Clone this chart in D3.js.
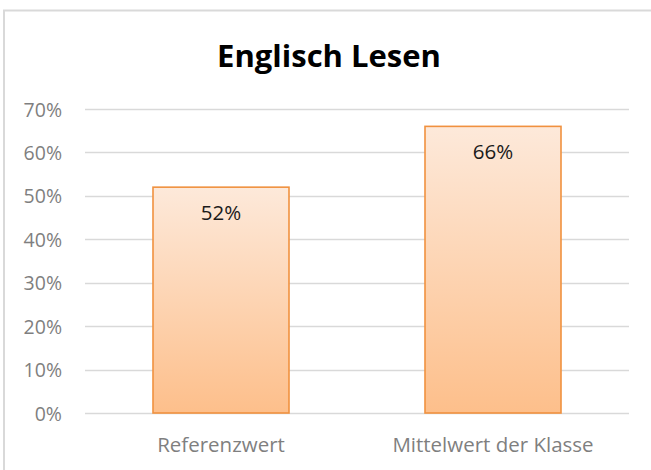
<!DOCTYPE html>
<html>
<head>
<meta charset="utf-8">
<script src="https://cdn.jsdelivr.net/npm/d3@7/dist/d3.min.js"></script>
<style>
  html, body { margin: 0; padding: 0; background: #ffffff; }
  svg { display: block; }
</style>
</head>
<body>
<svg id="chart" width="651" height="470"></svg>
<script>
const title = "Englisch Lesen";
const categories = ["Referenzwert", "Mittelwert der Klasse"];
const values = [0.52, 0.66];
const yTicks = [0, 0.1, 0.2, 0.3, 0.4, 0.5, 0.6, 0.7];

const W = 651, H = 470;
const svg = d3.select("#chart");
const FONT = "'Open Sans', Lato, sans-serif";

// chart border
svg.append("rect")
  .attr("x", 4).attr("y", 10.5)
  .attr("width", W + 20).attr("height", H + 20)
  .attr("fill", "#ffffff")
  .attr("stroke", "#d9d9d9").attr("stroke-width", 2);

const plot = { left: 85, right: 629, top: 109, bottom: 413 };

const y = d3.scaleLinear().domain([0, 0.7]).range([plot.bottom, plot.top]);
const x = d3.scaleBand().domain(categories)
  .range([plot.left, plot.right]).paddingInner(0.5).paddingOuter(0.25);

// gradient
const defs = svg.append("defs");
const grad = defs.append("linearGradient").attr("id", "barGrad")
  .attr("x1", 0).attr("y1", 0).attr("x2", 0).attr("y2", 1);
grad.append("stop").attr("offset", "0%").attr("stop-color", "#fde9da");
grad.append("stop").attr("offset", "100%").attr("stop-color", "#fdbf8b");

// gridlines
svg.append("g").selectAll("line").data(yTicks).join("line")
  .attr("x1", plot.left).attr("x2", plot.right)
  .attr("y1", d => Math.round(y(d)) + 0.5).attr("y2", d => Math.round(y(d)) + 0.5)
  .attr("stroke", "#d9d9d9").attr("stroke-width", 1.3);

// y axis
const yAxis = d3.axisLeft(y).tickValues(yTicks).tickFormat(d3.format(".0%")).tickSize(0).tickPadding(0);
const gy = svg.append("g").attr("transform", `translate(62,0)`).call(yAxis);
gy.select(".domain").remove();
gy.selectAll("text").attr("fill", "#7f7f7f").attr("font-family", FONT).attr("font-size", 19.5).attr("dy", "0.36em");

// x axis
const xAxis = d3.axisBottom(x).tickSize(0).tickPadding(0);
const gx = svg.append("g").attr("transform", `translate(0,${plot.bottom})`).call(xAxis);
gx.select(".domain").remove();
gx.selectAll("text").attr("fill", "#7f7f7f").attr("font-family", FONT).attr("font-size", 20.5)
  .attr("dy", null).attr("y", 39);

// bars
svg.append("g").selectAll("rect").data(values).join("rect")
  .attr("x", (d, i) => x(categories[i]))
  .attr("y", d => y(d))
  .attr("width", x.bandwidth())
  .attr("height", d => y(0) - y(d))
  .attr("fill", "url(#barGrad)")
  .attr("stroke", "#f0913f").attr("stroke-width", 1.6);

// value labels
svg.append("g").selectAll("text").data(values).join("text")
  .attr("x", (d, i) => x(categories[i]) + x.bandwidth() / 2)
  .attr("y", d => y(d) + 33)
  .attr("text-anchor", "middle")
  .attr("font-family", FONT).attr("font-size", 20.5)
  .attr("fill", "#1a1a1a")
  .text(d => d3.format(".0%")(d));

// title
svg.append("text")
  .attr("x", 329).attr("y", 67)
  .attr("text-anchor", "middle")
  .attr("font-family", FONT).attr("font-weight", "bold").attr("font-size", 31)
  .attr("fill", "#000000")
  .text(title);
</script>
</body>
</html>
